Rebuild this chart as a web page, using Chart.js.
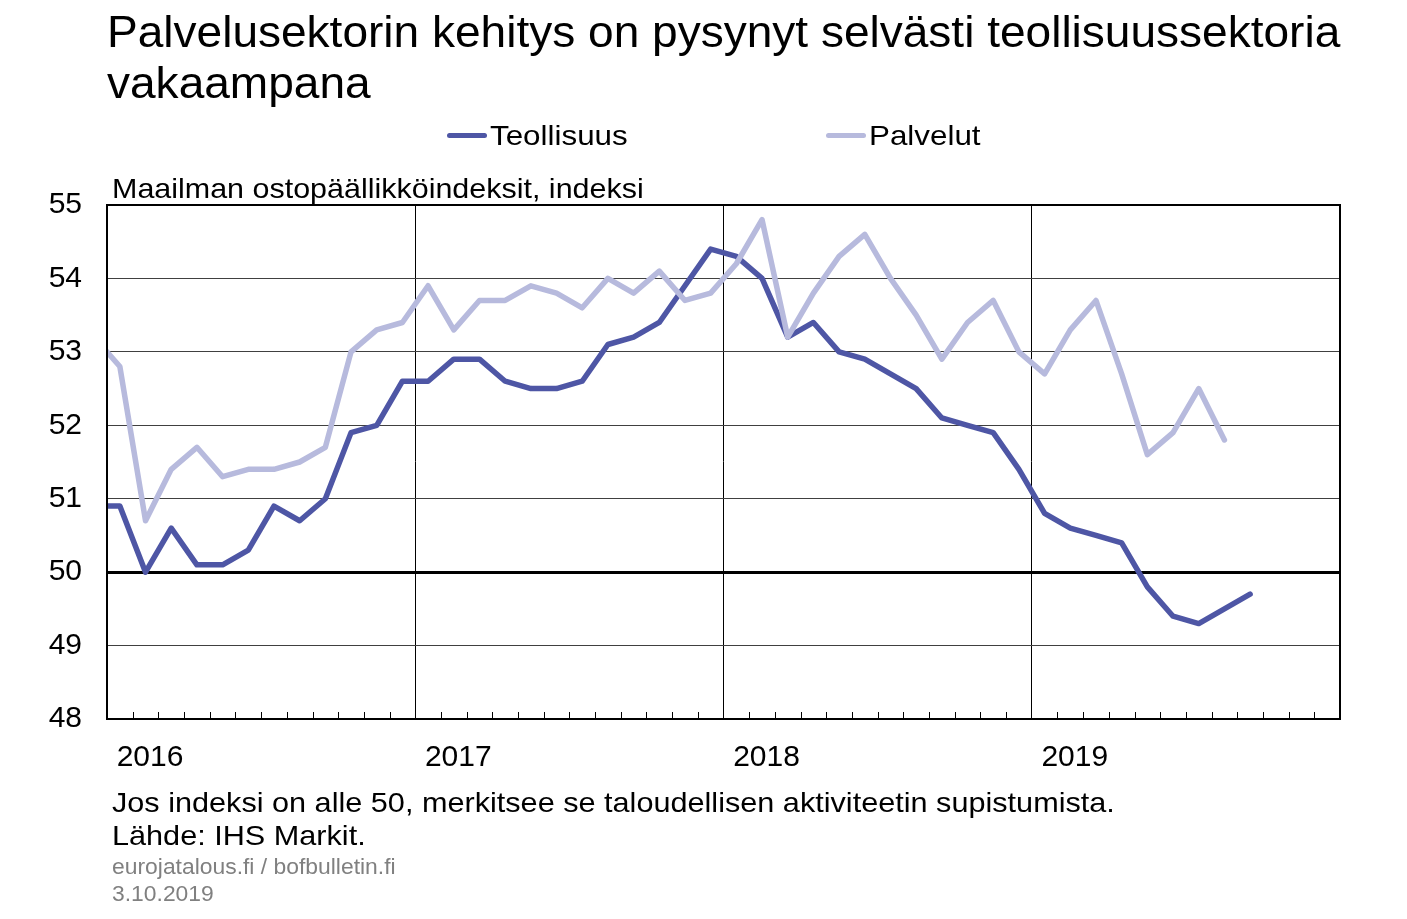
<!DOCTYPE html>
<html lang="fi">
<head>
<meta charset="utf-8">
<title>Palvelusektori ja teollisuus</title>
<script src="https://cdn.jsdelivr.net/npm/chart.js@4.4.1/dist/chart.umd.min.js"></script>
<style>
    body { margin: 0; background: #fff; font-family: "Liberation Sans", Arial, sans-serif; }
    #page { position: relative; width: 1407px; height: 919px; overflow: hidden; }
    #chartBox { position: absolute; left: 0; top: 0; width: 1407px; height: 919px; }
    .txt { position: absolute; white-space: nowrap; color: #000; transform-origin: 0 50%; }
    #title { left: 107px; top: 6px; font-size: 45px; line-height: 51px; transform: scaleX(1.023); }
    #subtitle { left: 112px; top: 173px; font-size: 28px; line-height: 32px; transform: scaleX(1.088); }
    #notes { left: 112px; top: 786px; font-size: 28px; line-height: 33px; transform: scaleX(1.094); }
    #source { left: 112px; top: 853px; font-size: 22px; line-height: 27px; color: #808080; transform: scaleX(1.04); }
    .legend-item { position: absolute; top: 120px; font-size: 28px; line-height: 32px; white-space: nowrap; }
    .legend-item i { display: inline-block; width: 40px; height: 5px; border-radius: 3px; vertical-align: middle; margin-right: 3px; position: relative; top: -2px; }
    .legend-item span { display: inline-block; transform: scaleX(1.12); transform-origin: 0 50%; }
</style>
</head>
<body>
<div id="page">
    <div id="chartBox"><canvas id="pmiChart"></canvas></div>
    <div class="txt" id="title">Palvelusektorin kehitys on pysynyt selvästi teollisuussektoria<br>vakaampana</div>
    <div class="txt" id="subtitle">Maailman ostopäällikköindeksit, indeksi</div>
    <div id="legend"></div>
    <div class="txt" id="notes">Jos indeksi on alle 50, merkitsee se taloudellisen aktiviteetin supistumista.<br>Lähde: IHS Markit.</div>
    <div class="txt" id="source">eurojatalous.fi / bofbulletin.fi<br>3.10.2019</div>
</div>

<script>
// kuukaudet, ensimmäinen (joulukuu 2015) jää kuvan vasemman reunan ulkopuolelle
const months = [
    "2015-12",
    "2016-01", "2016-02", "2016-03", "2016-04", "2016-05", "2016-06",
    "2016-07", "2016-08", "2016-09", "2016-10", "2016-11", "2016-12",
    "2017-01", "2017-02", "2017-03", "2017-04", "2017-05", "2017-06",
    "2017-07", "2017-08", "2017-09", "2017-10", "2017-11", "2017-12",
    "2018-01", "2018-02", "2018-03", "2018-04", "2018-05", "2018-06",
    "2018-07", "2018-08", "2018-09", "2018-10", "2018-11", "2018-12",
    "2019-01", "2019-02", "2019-03", "2019-04", "2019-05", "2019-06",
    "2019-07", "2019-08", "2019-09"
];

const teollisuus = [
    50.9,
    50.9, 50.0, 50.6, 50.1, 50.1, 50.3, 50.9, 50.7, 51.0, 51.9, 52.0, 52.6,
    52.6, 52.9, 52.9, 52.6, 52.5, 52.5, 52.6, 53.1, 53.2, 53.4, 53.9, 54.4,
    54.3, 54.0, 53.2, 53.4, 53.0, 52.9, 52.7, 52.5, 52.1, 52.0, 51.9, 51.4,
    50.8, 50.6, 50.5, 50.4, 49.8, 49.4, 49.3, 49.5, 49.7
];

const palvelut = [
    53.2,
    52.8, 50.7, 51.4, 51.7, 51.3, 51.4, 51.4, 51.5, 51.7, 53.0, 53.3, 53.4,
    53.9, 53.3, 53.7, 53.7, 53.9, 53.8, 53.6, 54.0, 53.8, 54.1, 53.7, 53.8,
    54.2, 54.8, 53.2, 53.8, 54.3, 54.6, 54.0, 53.5, 52.9, 53.4, 53.7, 53.0,
    52.7, 53.3, 53.7, 52.7, 51.6, 51.9, 52.5, 51.8
];

const years = ["2016", "2017", "2018", "2019"];
const yTicks = [48, 49, 50, 51, 52, 53, 54, 55];

const seriesNames = ["Teollisuus", "Palvelut"];
const seriesColors = ["#4e56a5", "#b7badd"];

const fontFamily = '"Liberation Sans", Arial, sans-serif';

// kuukauden keskikohta x-akselilla (0 = tammikuun 2016 alku)
function monthPos(m) {
    const parts = m.split("-");
    return (Number(parts[0]) - 2016) * 12 + Number(parts[1]) - 1 + 0.5;
}

function toPoints(values) {
    return values.map((v, i) => ({ x: monthPos(months[i]), y: v }));
}

// legend
const legend = document.getElementById("legend");
const legendLeft = [447, 826];
seriesNames.forEach((name, i) => {
    const item = document.createElement("div");
    item.className = "legend-item";
    item.style.left = legendLeft[i] + "px";
    item.innerHTML = '<i style="background:' + seriesColors[i] + '"></i><span>' + name + '</span>';
    legend.appendChild(item);
});

// reunat ja kuukausimerkit
const framePlugin = {
    id: "frame",
    afterDraw(chart) {
        const ctx = chart.ctx;
        const area = chart.chartArea;
        const x = chart.scales.x;
        ctx.save();
        ctx.strokeStyle = "#000";
        ctx.lineWidth = 1;
        for (let m = 1; m < 48; m++) {
            if (m % 12 === 0) continue;
            const px = Math.round(x.getPixelForValue(m)) + 0.5;
            ctx.beginPath();
            ctx.moveTo(px, area.bottom);
            ctx.lineTo(px, area.bottom - 7);
            ctx.stroke();
        }
        ctx.lineWidth = 2;
        ctx.strokeRect(area.left, area.top, area.right - area.left, area.bottom - area.top);
        ctx.restore();
    }
};

const pmiChart = document.getElementById("pmiChart");

new Chart(pmiChart, {
    type: "line",
    data: {
        datasets: [{
            label: seriesNames[1],
            data: toPoints(palvelut),
            borderColor: seriesColors[1],
            borderWidth: 5.5,
            order: 0
        }, {
            label: seriesNames[0],
            data: toPoints(teollisuus),
            borderColor: seriesColors[0],
            borderWidth: 5.5,
            order: 1
        }]
    },
    options: {
        responsive: true,
        maintainAspectRatio: false,
        animation: false,
        layout: { padding: { top: 205, right: 67, bottom: 130, left: 0 } },
        elements: {
            point: { radius: 0 },
            line: { tension: 0, borderCapStyle: "round", borderJoinStyle: "round" }
        },
        datasets: { line: { clip: 0 } },
        plugins: {
            legend: { display: false },
            tooltip: { enabled: false }
        },
        scales: {
            x: {
                type: "linear",
                min: 0,
                max: 48,
                afterBuildTicks: (scale) => {
                    const t = [];
                    for (let m = 0; m <= 48; m++) t.push({ value: m });
                    scale.ticks = t;
                },
                afterFit: (scale) => { scale.height = 70; },
                grid: {
                    drawTicks: false,
                    color: (c) => (c.tick && c.tick.value % 12 === 0) ? "#000" : "rgba(0,0,0,0)",
                    lineWidth: 1
                },
                border: { display: true, color: "#000", width: 2 },
                ticks: {
                    autoSkip: false,
                    maxRotation: 0,
                    padding: 21,
                    labelOffset: 43,
                    color: "#000",
                    font: { family: fontFamily, size: 30 },
                    callback: (v) => (v % 12 === 0 && v < 48) ? years[v / 12] : ""
                }
            },
            y: {
                min: yTicks[0],
                max: yTicks[yTicks.length - 1],
                afterBuildTicks: (scale) => { scale.ticks = yTicks.map((v) => ({ value: v })); },
                afterFit: (scale) => { scale.width = 107; },
                grid: {
                    drawTicks: false,
                    color: (c) => (c.tick && c.tick.value === 50) ? "#000" : "#404040",
                    lineWidth: (c) => (c.tick && c.tick.value === 50) ? 3 : 1
                },
                border: { display: true, color: "#000", width: 2 },
                ticks: {
                    padding: 25,
                    color: "#000",
                    font: { family: fontFamily, size: 30 }
                }
            }
        }
    },
    plugins: [framePlugin]
});
</script>
</body>
</html>
